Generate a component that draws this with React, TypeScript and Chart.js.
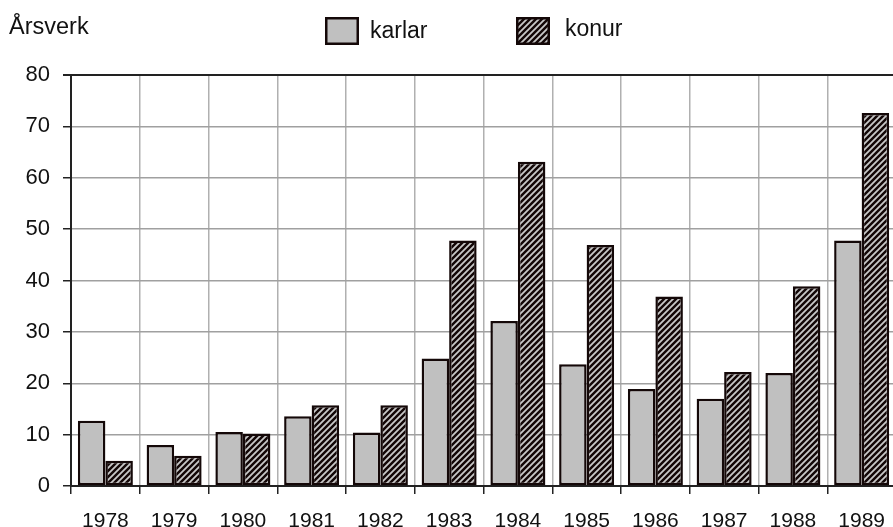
import React, { useEffect, useRef } from "react";
import { Chart, registerables } from "chart.js";

Chart.register(...registerables);

const categories = ["1978", "1979", "1980", "1981", "1982", "1983", "1984", "1985", "1986", "1987", "1988", "1989"];
const karlar = [12.7, 8.0, 10.5, 13.6, 10.4, 24.8, 32.1, 23.7, 18.9, 17.0, 22.0, 47.8];
const konur = [4.9, 5.9, 10.2, 15.7, 15.7, 47.8, 63.1, 46.9, 36.9, 22.2, 38.9, 72.6];
const seriesNames = ["karlar", "konur"];
const yAxisTitle = "Årsverk";
const yMin = 0;
const yMax = 80;
const yStep = 10;

const FONT = "'Liberation Sans', Arial, Helvetica, sans-serif";
const DARK = "#140808";
const GRAY_FILL = "#c0c0c0";

function makeHatch(): CanvasPattern | string {
  const c = document.createElement("canvas");
  c.width = 6;
  c.height = 6;
  const g = c.getContext("2d");
  if (!g) return DARK;
  g.fillStyle = "#120606";
  g.fillRect(0, 0, 6, 6);
  g.strokeStyle = "#c8c8c8";
  g.lineWidth = 1.8;
  g.beginPath();
  g.moveTo(0, 6);
  g.lineTo(6, 0);
  g.moveTo(-2, 2);
  g.lineTo(2, -2);
  g.moveTo(4, 8);
  g.lineTo(8, 4);
  g.stroke();
  const p = g.createPattern(c, "repeat");
  return p || DARK;
}

export default function App() {
  const ref = useRef<HTMLCanvasElement | null>(null);

  useEffect(() => {
    if (!ref.current) return;
    const hatch = makeHatch();

    const overlay = {
      id: "overlay",
      afterDraw(chart: any) {
        const ctx = chart.ctx;
        ctx.save();
        ctx.fillStyle = "#111";
        ctx.textAlign = "left";
        ctx.textBaseline = "alphabetic";
        ctx.font = `23.5px ${FONT}`;
        ctx.fillText(yAxisTitle, 9, 33.5);

        // legend
        const items = [
          { name: seriesNames[0], fill: GRAY_FILL as any, x: 325, y: 17, tx: 370, ty: 37.5 },
          { name: seriesNames[1], fill: hatch as any, x: 516, y: 17, tx: 565, ty: 36 },
        ];
        ctx.font = `23px ${FONT}`;
        for (const it of items) {
          ctx.fillStyle = it.fill;
          ctx.fillRect(it.x, it.y, 34, 28);
          ctx.strokeStyle = DARK;
          ctx.lineWidth = 2.5;
          ctx.strokeRect(it.x + 1.25, it.y + 1.25, 31.5, 25.5);
          ctx.fillStyle = "#111";
          ctx.fillText(it.name, it.tx, it.ty);
        }
        ctx.restore();
      },
    };

    const chart = new Chart(ref.current, {
      type: "bar",
      data: {
        labels: categories,
        datasets: [
          {
            label: seriesNames[0],
            data: karlar,
            backgroundColor: GRAY_FILL,
            borderColor: DARK,
            borderWidth: 2.5,
            borderSkipped: false,
            categoryPercentage: 0.8,
            barPercentage: 1.0,
          },
          {
            label: seriesNames[1],
            data: konur,
            backgroundColor: hatch as any,
            borderColor: DARK,
            borderWidth: 2.5,
            borderSkipped: false,
            categoryPercentage: 0.8,
            barPercentage: 1.0,
          },
        ],
      },
      options: {
        responsive: false,
        animation: false,
        devicePixelRatio: 1,
        layout: { padding: { top: 75, left: 0, right: 0, bottom: 0 } },
        plugins: {
          legend: { display: false },
          tooltip: { enabled: false },
          title: { display: false },
        },
        scales: {
          x: {
            offset: true,
            grid: {
              offset: true,
              color: "#b0b0b0",
              lineWidth: 1.5,
              tickColor: "#222",
              tickLength: 8,
              drawOnChartArea: true,
            },
            border: { color: "#222", width: 2 },
            ticks: {
              color: "#111",
              font: { family: FONT, size: 21 },
              padding: 15,
              maxRotation: 0,
              autoSkip: false,
            },
            afterFit: (scale: any) => {
              scale.height = 41;
            },
          },
          y: {
            min: yMin,
            max: yMax,
            grid: {
              color: (c: any) => (c.tick && c.tick.value === yMax ? "#222" : "#a0a0a0"),
              lineWidth: (c: any) => (c.tick && c.tick.value === yMax ? 2 : 1.5),
              tickColor: "#222",
              tickLength: 8,
            },
            border: { color: "#222", width: 2 },
            ticks: {
              stepSize: yStep,
              color: "#111",
              font: { family: FONT, size: 22 },
              padding: 13,
            },
            afterFit: (scale: any) => {
              scale.width = 71;
            },
          },
        },
      },
      plugins: [overlay],
    });

    return () => chart.destroy();
  }, []);

  return (
    <div style={{ position: "fixed", left: 0, top: 0, width: 900, height: 527, background: "#fff" }}>
      <canvas ref={ref} width={900} height={527} style={{ width: 900, height: 527, display: "block" }} />
    </div>
  );
}
